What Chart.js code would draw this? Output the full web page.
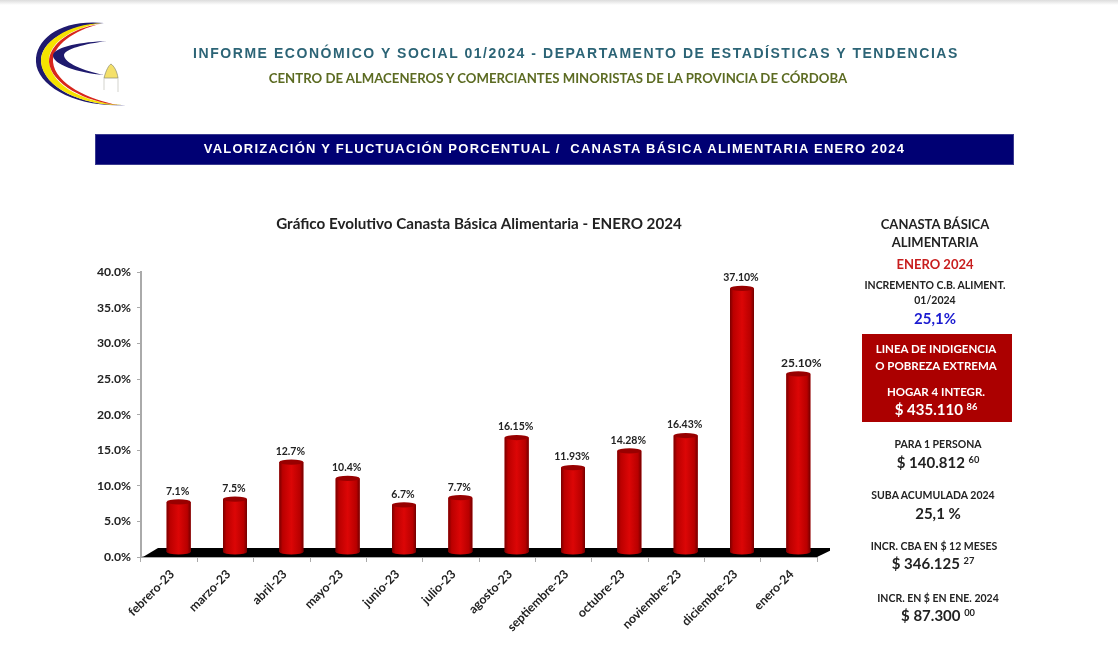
<!DOCTYPE html>
<html lang="es"><head><meta charset="utf-8">
<script src="https://cdn.jsdelivr.net/npm/chart.js@4"></script>
<style>
html,body{margin:0;padding:0;background:#fff;width:1118px;height:666px;overflow:hidden}
#page{position:absolute;left:0;top:0;width:1118px;height:666px;filter:blur(.35px)}
.shadow{position:absolute;left:0;top:0;width:1118px;height:5px;background:linear-gradient(#dcdcdc,#fff)}
.t{position:absolute;white-space:nowrap;transform:translate(-50%,-50%);font-family:Lato,sans-serif;font-weight:700;color:#222}
.t sup{font-size:.62em;vertical-align:.55em;line-height:0;font-weight:700}
#band{position:absolute;left:95px;top:134px;width:919px;height:31px;background:#000073;box-shadow:inset 0 0 0 1px #3a3a90}
#red{position:absolute;left:862px;top:334px;width:150px;height:88px;background:#ab0000}
#logo{position:absolute;left:30px;top:15px}
#wrap{position:absolute;left:90px;top:210px;width:740px;height:430px}
</style></head><body>
<div id="page">
<div class="shadow"></div>
<svg id="logo" width="110" height="100" viewBox="30 15 110 100">
<path fill="#1f1a6e" d="M104 23C62 19 35 38 36 62C37 86 76 108 126 105C84 106 45 90 41 62C40 42 66 26 104 23Z"/>
<path fill="#f6e300" d="M102 23C68 24 40 42 41 62C43 88 84 106 122 105C88 103 52 88 49 62C48 44 70 28 102 23Z"/>
<path fill="#d8261c" d="M100 24C72 28 49 44 49 62C51 84 86 102 118 105C90 100 55 84 53 62C52 46 74 30 100 24Z"/>
<path fill="#1f1a6e" d="M107 41C82 42 56 46 53 55C52 64 78 73 104 75C84 71 64 63 64 55C65 49 84 44 107 41Z"/>
<path fill="#f4e06a" stroke="#8a8a70" stroke-width=".7" d="M104 78C106 70 109 65 111 64C114 66 117 71 118 78Z"/>
<path fill="none" stroke="#c8c8c0" stroke-width=".8" d="M104 78L104 90M118 78L118 92"/>
</svg>
<div class="t" style="left:576px;top:53px;font:700 14px 'Liberation Sans',sans-serif;letter-spacing:1.55px;color:#2c6476">INFORME ECONÓMICO Y SOCIAL 01/2024 - DEPARTAMENTO DE ESTADÍSTICAS Y TENDENCIAS</div>
<div class="t" style="left:558px;top:78px;font-size:13.2px;color:#5c6b22">CENTRO DE ALMACENEROS Y COMERCIANTES MINORISTAS DE LA PROVINCIA DE CÓRDOBA</div>
<div id="band"></div>
<div class="t" style="left:554.5px;top:148px;font:700 13px 'Liberation Sans',sans-serif;letter-spacing:1.25px;color:#fff">VALORIZACIÓN Y FLUCTUACIÓN PORCENTUAL /&nbsp; CANASTA BÁSICA ALIMENTARIA ENERO 2024</div>
<div id="wrap"><canvas id="c" width="740" height="430"></canvas></div>
<div id="red"></div>
<div class="t" style="left:935px;top:224px;font-size:13px">CANASTA BÁSICA</div>
<div class="t" style="left:935px;top:242px;font-size:13px">ALIMENTARIA</div>
<div class="t" style="left:935px;top:264px;font-size:13px;color:#c81e1e">ENERO 2024</div>
<div class="t" style="left:935px;top:285px;font-size:10.5px">INCREMENTO C.B. ALIMENT.</div>
<div class="t" style="left:935px;top:300px;font-size:10.5px">01/2024</div>
<div class="t" style="left:935px;top:318px;font-size:15px;color:#1a1ad0">25,1%</div>
<div class="t" style="left:936px;top:348px;font-size:11.5px;color:#fff">LINEA DE INDIGENCIA</div>
<div class="t" style="left:936px;top:365px;font-size:11.5px;color:#fff">O POBREZA EXTREMA</div>
<div class="t" style="left:936px;top:391px;font-size:11.5px;color:#fff">HOGAR 4 INTEGR.</div>
<div class="t" style="left:936px;top:409px;font-size:15px;color:#fff">$ 435.110 <sup>86</sup></div>
<div class="t" style="left:938px;top:444px;font-size:10.5px">PARA 1 PERSONA</div>
<div class="t" style="left:938px;top:462px;font-size:15px">$ 140.812 <sup>60</sup></div>
<div class="t" style="left:933px;top:495px;font-size:10.5px">SUBA ACUMULADA 2024</div>
<div class="t" style="left:938px;top:513px;font-size:15px">25,1 %</div>
<div class="t" style="left:934px;top:546px;font-size:10.5px">INCR. CBA EN $ 12 MESES</div>
<div class="t" style="left:933px;top:563px;font-size:15px">$ 346.125 <sup>27</sup></div>
<div class="t" style="left:938px;top:598px;font-size:10.5px">INCR. EN $ EN ENE. 2024</div>
<div class="t" style="left:938px;top:615px;font-size:15px">$ 87.300 <sup>00</sup></div>
</div>
<script>
const categories = ['febrero-23','marzo-23','abril-23','mayo-23','junio-23','julio-23','agosto-23','septiembre-23','octubre-23','noviembre-23','diciembre-23','enero-24'];
const values = [7.1,7.5,12.7,10.4,6.7,7.7,16.15,11.93,14.28,16.43,37.10,25.10];
const valueLabels = ['7.1%','7.5%','12.7%','10.4%','6.7%','7.7%','16.15%','11.93%','14.28%','16.43%','37.10%','25.10%'];
const chartTitle = 'Gráfico Evolutivo Canasta Básica Alimentaria - ENERO 2024';

const DX = 9.5, DY = -4.5;
const floorPlugin = {
  id:'floor',
  beforeDatasetsDraw(ch){
    const {ctx,chartArea:a} = ch;
    const y0 = ch.scales.y.getPixelForValue(0);
    ctx.save();
    ctx.fillStyle='#000';
    ctx.beginPath();
    ctx.moveTo(a.left+2,y0);
    ctx.lineTo(a.right,y0);
    ctx.lineTo(a.right+19,y0-9);
    ctx.lineTo(a.left+17,y0-9);
    ctx.closePath();ctx.fill();
    ctx.restore();
    ctx.save();
    ctx.translate(DX,DY);
  },
  afterDatasetsDraw(ch){
    const {ctx} = ch;
    ch.getDatasetMeta(0).data.forEach((b,i)=>{
      const w=b.width,l=b.x-w/2,r=b.x+w/2,ry=2.6;
      const g=ctx.createLinearGradient(l,0,r,0);
      g.addColorStop(0,'#7a0000');g.addColorStop(.14,'#bb0000');g.addColorStop(.5,'#dc0606');g.addColorStop(.86,'#b80000');g.addColorStop(1,'#730000');
      ctx.fillStyle=g;
      ctx.beginPath();
      ctx.moveTo(l,b.y);ctx.lineTo(l,b.base);
      ctx.ellipse(b.x,b.base,w/2,ry,0,Math.PI,0,true);
      ctx.lineTo(r,b.y);ctx.closePath();ctx.fill();
      ctx.fillStyle='#980000';
      ctx.beginPath();ctx.ellipse(b.x,b.y,w/2,ry,0,0,Math.PI*2);ctx.fill();
    });
    ctx.restore();
    ctx.save();
    ctx.fillStyle='#222';ctx.textAlign='center';ctx.textBaseline='middle';
    const meta = ch.getDatasetMeta(0).data;
    meta.forEach((b,i)=>{
      const last = i === meta.length-1;
      ctx.font = `700 ${last?12:10.5}px Lato, sans-serif`;
      ctx.fillText(valueLabels[i],b.x+DX+(last?3:-1),b.y+DY-(last?11:10.5));
    });
    ctx.restore();
  }
};
new Chart(document.getElementById('c'),{
  type:'bar',
  data:{labels:categories,datasets:[{data:values,backgroundColor:'#c00000',barPercentage:.426,categoryPercentage:1,borderWidth:0}]},
  options:{
    responsive:false,animation:false,devicePixelRatio:1,
    layout:{padding:{left:0,right:13,top:0,bottom:0}},
    plugins:{
      legend:{display:false},tooltip:{enabled:false},
      title:{display:true,text:chartTitle,fullSize:false,color:'#222',font:{family:'Lato',size:15.2,weight:'700'},padding:{top:5,bottom:39}}
    },
    scales:{
      x:{
        afterFit(s){s.height=83},
        grid:{offset:true,drawOnChartArea:false,drawTicks:true,tickLength:5,color:'#aaa'},
        border:{color:'#aaa',width:2},
        ticks:{minRotation:45,maxRotation:45,autoSkip:false,color:'#222',padding:5,labelOffset:3,font:{family:'Lato',size:12.3,weight:'700'}}
      },
      y:{
        min:0,max:40,
        afterFit(s){s.width=51},
        grid:{drawOnChartArea:false,tickLength:4,color:'#aaa'},
        border:{color:'#aaa',width:2},
        ticks:{stepSize:5,color:'#222',padding:6,callback:v=>v.toFixed(1)+'%',font:{family:'Lato',size:12.2,weight:'700'}}
      }
    }
  },
  plugins:[floorPlugin]
});
</script>
</body></html>
